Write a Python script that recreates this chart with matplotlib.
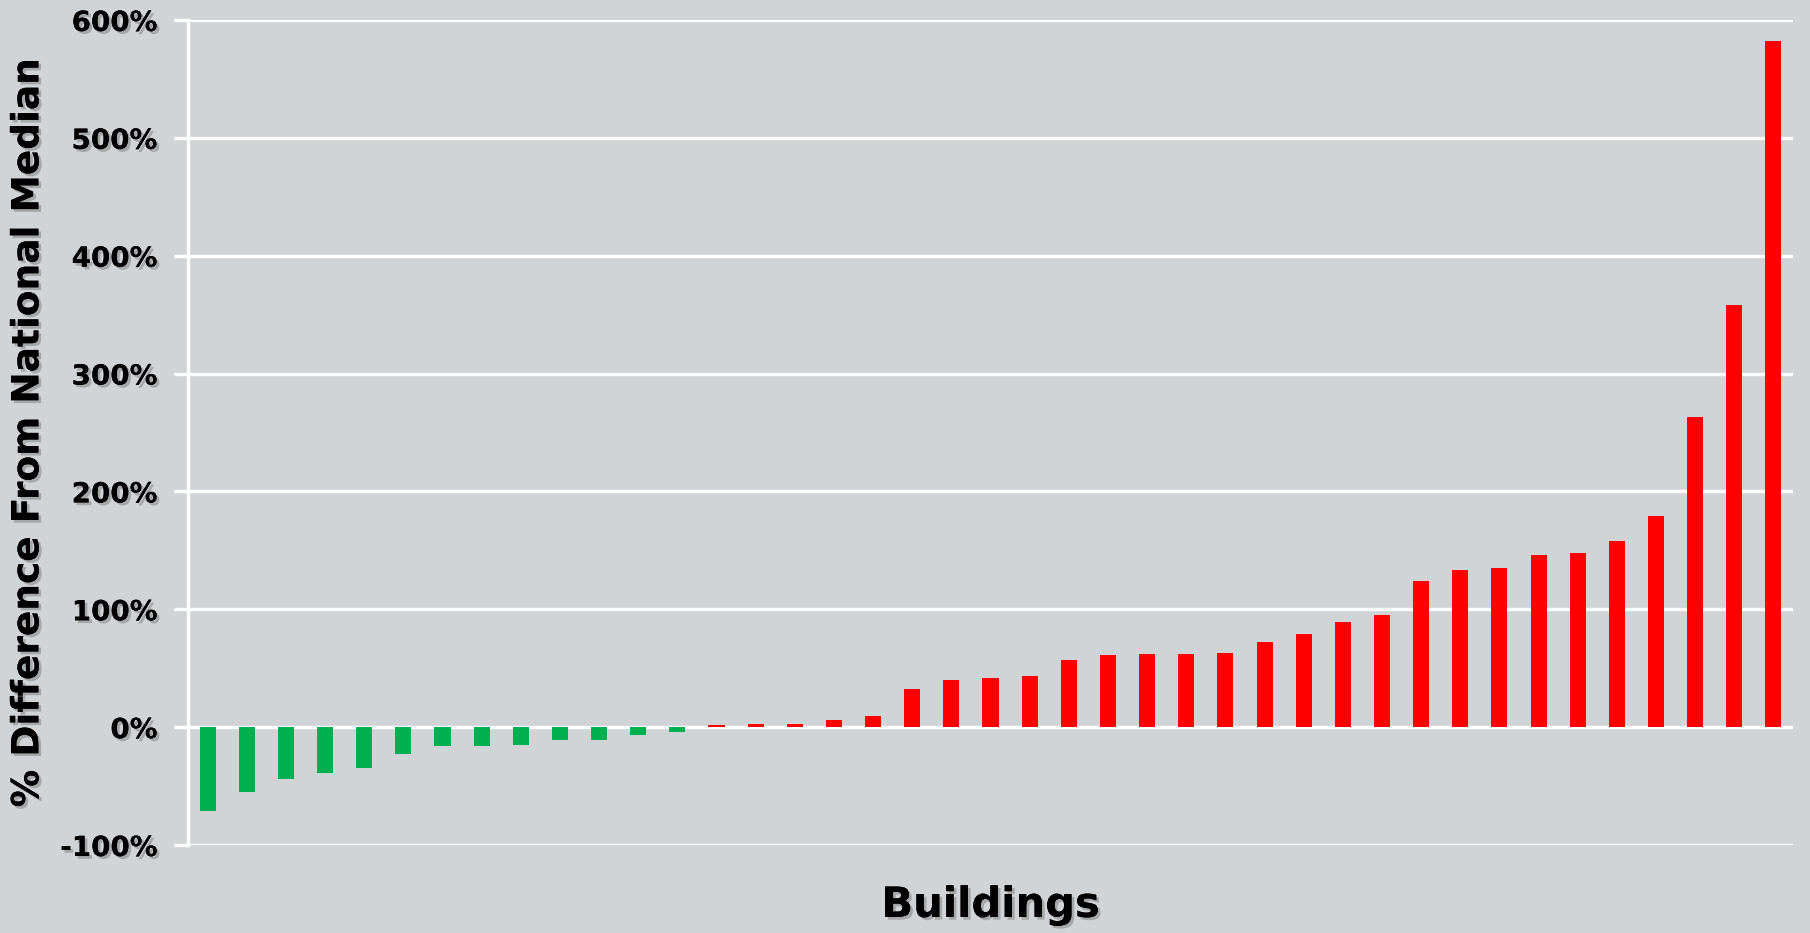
import matplotlib
matplotlib.use("Agg")
import matplotlib.pyplot as plt
import matplotlib.patheffects as pe
from matplotlib.ticker import FuncFormatter

# % difference from national median, sorted
below_median = [-71, -55, -44, -39, -35, -23, -16, -16, -15, -11, -11, -7, -4]
above_median = [1.5, 3, 3, 6, 9.5, 32, 40, 42, 43, 57, 61, 62, 62, 63, 72, 79,
                89, 95, 124, 133, 135, 146, 148, 158, 179, 263, 358, 582]
y_ticks = [-100, 0, 100, 200, 300, 400, 500, 600]

values = below_median + above_median
colors = ["#00B050"] * len(below_median) + ["#FF0000"] * len(above_median)

bg = "#D0D4D7"
shadow = [pe.withSimplePatchShadow(offset=(2, -2), shadow_rgbFace="#666666", alpha=0.4),
          pe.Normal()]

fig = plt.figure(figsize=(18.1, 9.33), dpi=100, facecolor=bg)
ax = fig.add_axes([0.1039, 0.0943, 0.8867, 0.8843])
ax.set_facecolor(bg)

ax.bar(range(len(values)), values, width=0.41, color=colors, zorder=3)

ax.set_xlim(-0.5, len(values) - 0.5)
ax.set_ylim(-100, 600)
ax.set_yticks(y_ticks)
ax.yaxis.set_major_formatter(FuncFormatter(lambda v, _: f"{v:.0f}%"))
ax.set_xticks([])
ax.grid(axis="y", color="white", linewidth=2.4, zorder=0)
ax.set_axisbelow(True)

for side in ["top", "right", "bottom"]:
    ax.spines[side].set_visible(False)
ax.spines["left"].set_color("white")
ax.spines["left"].set_linewidth(2.4)

ax.tick_params(axis="y", length=10, width=2.4, color="white", pad=12)
for lbl in ax.get_yticklabels():
    lbl.set_fontsize(20)
    lbl.set_fontweight("bold")
    lbl.set_path_effects(shadow)

ax.set_ylabel("% Difference From National Median", fontsize=27, fontweight="bold",
              labelpad=10, path_effects=shadow)
ax.set_xlabel("Buildings", fontsize=30, fontweight="bold", labelpad=28,
              path_effects=shadow)

fig.savefig("out.png", dpi=100, facecolor=bg)
